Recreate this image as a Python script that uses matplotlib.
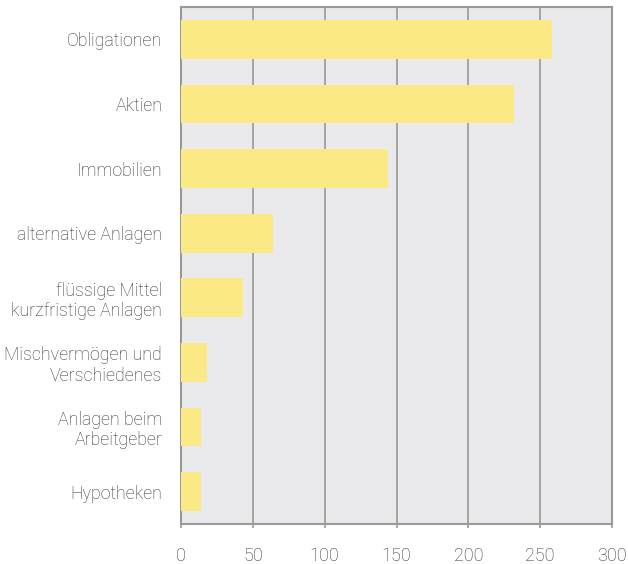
import matplotlib
matplotlib.use("Agg")
import matplotlib.pyplot as plt

categories = ["Obligationen", "Aktien", "Immobilien", "alternative Anlagen",
              "flüssige Mittel\nkurzfristige Anlagen", "Mischvermögen und\nVerschiedenes",
              "Anlagen beim\nArbeitgeber", "Hypotheken"]
values = [258, 232, 144, 64, 43.5, 18, 14, 14]
xticks = [0, 50, 100, 150, 200, 250, 300]

plt.rcParams['font.family'] = ['Roboto', 'DejaVu Sans']

fig = plt.figure(figsize=(6.28, 5.64), dpi=100)
ax = fig.add_axes([181/628, 1 - 524/564, (612-181)/628, (524-7)/564])
ax.set_facecolor("#EAEAED")

ypos = list(range(len(categories)))
ax.barh(ypos, values, height=0.6, color="#FBE985", zorder=3)
ax.set_ylim(len(categories) - 0.5, -0.5)
ax.set_xlim(0, 300)
ax.set_xticks(xticks)
ax.set_xticklabels([str(t) for t in xticks])
ax.set_yticks(ypos)
ax.set_yticklabels(categories, linespacing=1.15)

ax.grid(axis='x', color="#999999", linewidth=1.2, zorder=1)
ax.grid(axis='y', visible=False)
for s in ax.spines.values():
    s.set_color("#999999")
    s.set_linewidth(1.5)

ax.tick_params(axis='y', length=0, pad=13.5, labelsize=12.8, labelcolor="#333333")
ax.tick_params(axis='x', length=3, width=1.2, color="#999999", pad=13.5,
               labelsize=13, labelcolor="#333333")
for lbl in ax.get_xticklabels() + ax.get_yticklabels():
    lbl.set_fontweight('light')

fig.savefig("out.png", dpi=100)
